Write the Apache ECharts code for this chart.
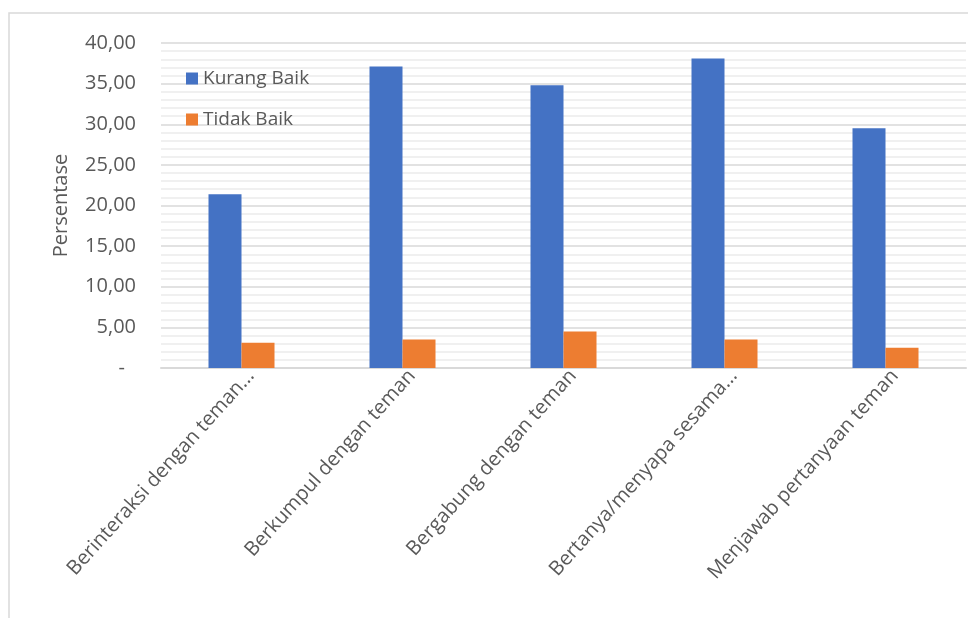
<!DOCTYPE html>
<html>
<head>
<meta charset="utf-8">
<script src="https://cdn.jsdelivr.net/npm/echarts@6/dist/echarts.min.js"></script>
<style>
html,body{margin:0;padding:0;background:#fff;}
#chart{width:968px;height:618px;}
</style>
</head>
<body>
<div id="chart"></div>
<script>
const categories = [
  'Berinteraksi dengan teman...',
  'Berkumpul dengan teman',
  'Bergabung dengan teman',
  'Bertanya/menyapa sesama...',
  'Menjawab pertanyaan teman'
];
const seriesNames = ['Kurang Baik', 'Tidak Baik'];
const kurangBaik = [21.4, 37.1, 34.8, 38.1, 29.5];
const tidakBaik = [3.1, 3.5, 4.5, 3.5, 2.5];
const yMin = 0, yMax = 40, yInterval = 5;
const yAxisTitle = 'Persentase';

const FONT = '"Open Sans", "Noto Sans", sans-serif';
const TXT = '#595959';

const chart = echarts.init(document.getElementById('chart'), null, {renderer: 'canvas'});
chart.setOption({
  animation: false,
  backgroundColor: '#ffffff',
  textStyle: {fontFamily: FONT},
  graphic: [{
    type: 'rect',
    shape: {x: 9, y: 13, width: 1000, height: 700},
    style: {fill: 'none', stroke: '#d9d9d9', lineWidth: 1.5},
    silent: true,
    z: -10
  }],
  grid: {left: 161, right: 2, top: 43, bottom: 250, containLabel: false},
  legend: {
    orient: 'vertical',
    left: 186,
    top: 69,
    padding: 0,
    itemWidth: 12,
    itemHeight: 12,
    itemGap: 22,
    icon: 'rect',
    textStyle: {color: TXT, fontSize: 19, fontFamily: FONT},
    data: seriesNames
  },
  xAxis: {
    type: 'category',
    data: categories,
    axisLine: {show: true, lineStyle: {color: '#d9d9d9', width: 2}},
    axisTick: {show: false},
    axisLabel: {
      rotate: 48,
      interval: 0,
      margin: 15,
      color: TXT,
      fontSize: 20,
      fontFamily: FONT,
      padding: [0, -14, 0, 0]
    }
  },
  yAxis: {
    type: 'value',
    min: yMin,
    max: yMax,
    interval: yInterval,
    name: yAxisTitle,
    nameLocation: 'middle',
    nameRotate: 90,
    nameGap: 90,
    nameTextStyle: {color: TXT, fontSize: 20, fontFamily: FONT},
    axisLine: {show: false},
    axisTick: {show: false},
    axisLabel: {
      margin: 25,
      color: TXT,
      fontSize: 20,
      fontFamily: FONT,
      formatter: function (v) {
        if (v === 0) return '{z|-}';
        return v.toFixed(2).replace('.', ',');
      },
      rich: {z: {color: TXT, fontSize: 20, fontFamily: FONT, padding: [0, 11, 0, 0]}}
    },
    splitLine: {show: true, lineStyle: {color: '#d9d9d9', width: 1.5}},
    minorTick: {show: false, splitNumber: 5},
    minorSplitLine: {show: true, lineStyle: {color: '#ececec', width: 1.5}}
  },
  series: [
    {
      name: seriesNames[0],
      type: 'bar',
      data: kurangBaik,
      barWidth: 33,
      barGap: '0%',
      itemStyle: {color: '#4472C4'}
    },
    {
      name: seriesNames[1],
      type: 'bar',
      data: tidakBaik,
      barWidth: 33,
      barGap: '0%',
      itemStyle: {color: '#ED7D31'}
    }
  ]
});
</script>
</body>
</html>
